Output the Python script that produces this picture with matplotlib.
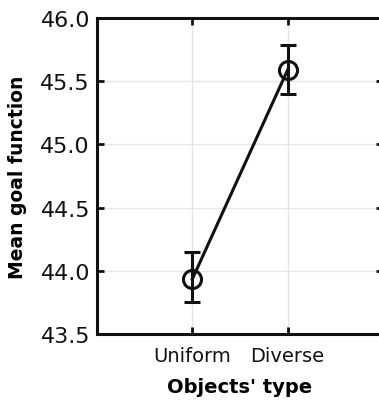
import matplotlib.pyplot as plt

types = ["Uniform", "Diverse"]
means = [43.935, 45.59]
err_low = [43.75, 45.40]
err_high = [44.15, 45.79]

x = [1, 2]
yerr = [[m - lo for m, lo in zip(means, err_low)],
        [hi - m for m, hi in zip(means, err_high)]]

fig = plt.figure(figsize=(3.79, 4.02), dpi=100)
ax = fig.add_axes([97 / 379, 1 - 335 / 402, 286 / 379, 316 / 402])

ax.errorbar(x, means, yerr=yerr, color="#111111", lw=2.2, capsize=6, capthick=2.2,
            elinewidth=2.2, marker="o", markersize=13, mfc="none", mec="#111111",
            mew=2.2, zorder=3)

ax.set_xlim(0, 3)
ax.set_ylim(43.5, 46.0)
ax.set_xticks(x)
ax.set_xticklabels(types, fontsize=14)
ax.set_yticks([43.5, 44.0, 44.5, 45.0, 45.5, 46.0])
ax.set_yticklabels(["43.5", "44.0", "44.5", "45.0", "45.5", "46.0"], fontsize=16)
ax.grid(True, color="#e6e6e6", lw=1)
ax.set_axisbelow(True)

for s in ax.spines.values():
    s.set_linewidth(2.2)
    s.set_color("#111111")

ax.tick_params(direction="in", length=5, width=2, top=True, right=True,
               colors="#111111", pad=5)
ax.tick_params(axis="x", pad=9)

# Set chart labels.
ax.set_xlabel("Objects' type", fontsize=14, fontweight="bold", labelpad=8)
ax.set_ylabel("Mean goal function", fontsize=13.5, fontweight="bold", labelpad=10)

fig.savefig("out.png", dpi=100)
